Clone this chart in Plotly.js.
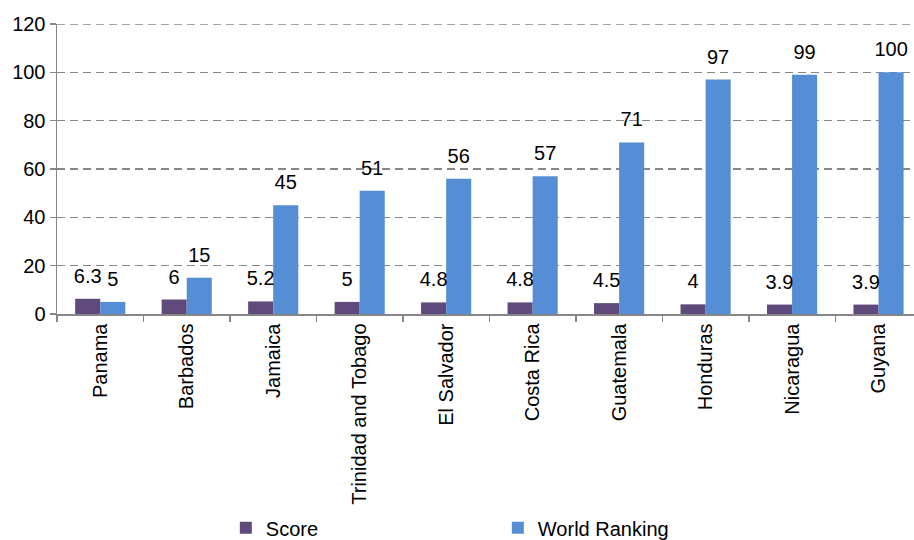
<!DOCTYPE html>
<html><head><meta charset="utf-8">
<script src="https://cdn.plot.ly/plotly-3.0.1.min.js"></script>
<style>html,body{margin:0;padding:0;background:#fff}#chart{width:914px;height:540px}</style>
</head><body><div id="chart"></div>
<script>
var countries = ["Panama","Barbados","Jamaica","Trinidad and Tobago","El Salvador","Costa Rica","Guatemala","Honduras","Nicaragua","Guyana"];
var score = [6.3, 6, 5.2, 5, 4.8, 4.8, 4.5, 4, 3.9, 3.9];
var worldRanking = [5, 15, 45, 51, 56, 57, 71, 97, 99, 100];
var yTicks = [0, 20, 40, 60, 80, 100, 120];

var font = "Liberation Sans, Arial, sans-serif";
var labelFont = {family:font, size:20, color:"#000"};
var traces = [
  {type:"bar", name:"Score", x:countries, y:score, offsetgroup:"s",
   marker:{color:"#604a7b"}},
  {type:"bar", name:"World Ranking", x:countries, y:worldRanking, offsetgroup:"w",
   marker:{color:"#558ed5"}},
  {type:"scatter", mode:"markers+text", x:countries, y:score, offsetgroup:"s",
   text:score.map(String), textposition:"top center", textfont:labelFont,
   marker:{size:16, opacity:0}, showlegend:false, cliponaxis:false, hoverinfo:"skip"},
  {type:"scatter", mode:"markers+text", x:countries, y:worldRanking, offsetgroup:"w",
   text:worldRanking.map(String), textposition:"top center", textfont:labelFont,
   marker:{size:16, opacity:0}, showlegend:false, cliponaxis:false, hoverinfo:"skip"}
];
var yMax = yTicks[yTicks.length - 1];
var layout = {
  width:914, height:540,
  margin:{l:57, r:0, t:24, b:226, autoexpand:false},
  paper_bgcolor:"#fff", plot_bgcolor:"#fff",
  font:{family:font, size:20, color:"#000"},
  barmode:"group", bargap:0.42, bargroupgap:0,
  scattermode:"group", scattergap:0.42,
  showlegend:true,
  legend:{orientation:"h", x:0.197, xanchor:"left", y:-0.67, yanchor:"top",
          entrywidth:227, entrywidthmode:"pixels", itemwidth:30,
          font:{family:font, size:20, color:"#000"}},
  xaxis:{range:[-0.5, 9.41], tickangle:-90, tickson:"boundaries", ticks:"outside",
         ticklen:6, tickcolor:"#868686", tickwidth:1.5,
         showline:true, linecolor:"#868686", linewidth:1.5,
         tickfont:{family:font, size:20, color:"#000"}, showgrid:false, fixedrange:true},
  yaxis:{range:[0,yMax], tickvals:yTicks, ticks:"outside", ticklen:6, tickcolor:"#868686", tickwidth:1.5,
         showline:true, linecolor:"#868686", linewidth:1.5,
         showgrid:true, gridcolor:"#868686", gridwidth:1.5, griddash:"8px,5px",
         zeroline:false, tickfont:{family:font, size:20, color:"#000"}},
  shapes:[{type:"line", xref:"paper", yref:"y", x0:0, x1:1, y0:yMax, y1:yMax,
           line:{color:"#868686", width:1.5, dash:"8px,5px"}, layer:"below"}]
};
Plotly.newPlot("chart", traces, layout, {displayModeBar:false, staticPlot:true});
</script></body></html>
